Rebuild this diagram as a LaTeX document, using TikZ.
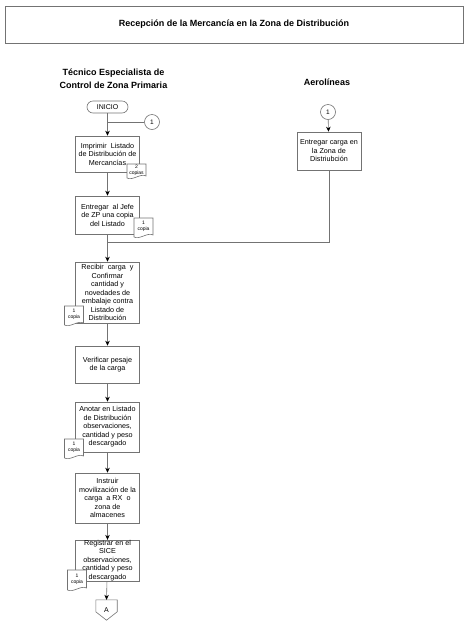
\documentclass[tikz,border=0pt]{standalone}
\usepackage{fontspec}
\setmainfont{Liberation Sans}
\usepackage{tikz}
\usetikzlibrary{shapes,arrows,arrows.meta,positioning,calc}

\begin{document}
\begin{tikzpicture}[x=1pt, y=-1pt,
    titlebox/.style={rectangle, draw=black!55, line width=0.6pt, minimum width=458, minimum height=37, font=\fontsize{9}{11}\selectfont\bfseries},
    header/.style={font=\fontsize{9}{13}\selectfont\bfseries, align=center},
    process/.style={rectangle, draw=black!55, line width=0.6pt, fill=white, minimum width=64, inner sep=1pt, font=\fontsize{7.2}{8.5}\selectfont, align=center},
    terminal/.style={rectangle, rounded corners=6pt, draw=black!55, line width=0.6pt, minimum width=41, minimum height=12, inner sep=0pt, font=\fontsize{7}{8}\selectfont},
    connector/.style={circle, draw=black!55, line width=0.6pt, minimum size=15, inner sep=0pt, font=\fontsize{6.5}{8}\selectfont},
    copia/.style={inner sep=0pt, font=\fontsize{5}{6}\selectfont, align=center},
    line/.style={draw=black!55, line width=0.6pt},
    arrow/.style={-{Stealth[length=5pt, width=4.5pt, color=black]}, draw=black!55, line width=0.6pt}
]
\useasboundingbox (0,0) rectangle (467,630);

% Title
\node[titlebox] (title) at (234,24.5) {Recepción de la Mercancía en la Zona de Distribución};

% Columns
\node[header] (tecnico) at (113.5,79) {Técnico Especialista de\\Control de Zona Primaria};
\node[header] (aerolineas) at (327,82.5) {Aerolíneas};

% Left column
\node[terminal] (inicio) at (107.5,107) {INICIO};
\node[connector] (unoA) at (152,122) {1};
\node[process, minimum height=36] (imprimir) at (107.5,154) {Imprimir~ Listado\\de Distribución de\\Mercancías};
\node[process, minimum height=38] (entrega) at (107.5,215) {Entregar~ al Jefe\\de ZP una copia\\del Listado};
\node[process, minimum height=61] (recibir) at (107.5,292.5) {Recibir~ carga~ y\\Confirmar\\cantidad y\\novedades de\\embalaje contra\\Listado de\\Distribución};
\node[process, minimum height=37] (verificar) at (107.5,364.5) {Verificar pesaje\\de la carga};
\node[process, minimum height=50] (anotar) at (107.5,427) {Anotar en Listado\\de Distribución\\observaciones,\\cantidad y peso\\descargado};
\node[process, minimum height=50] (instruir) at (107.5,498) {Instruir\\movilización de la\\carga~ a RX~ o\\zona de\\almacenes};
\node[process, minimum height=39, inner sep=0pt] (registrar) at (107.5,560.5) {Registrar en el\\SICE\\observaciones,\\cantidad y peso\\descargado};
\node[minimum width=21, minimum height=20, inner sep=0pt, font=\fontsize{7}{8}\selectfont] (letraA) at (106.5,610) {A};
\draw[line] (letraA.north west) -- (letraA.north east) -- ++(0,12) -- (letraA.south) -- ($(letraA.north west)+(0,12)$) -- cycle;

% Right column
\node[connector] (unoB) at (328,112) {1};
\node[process, minimum height=38] (aero) at (329,151) {Entregar carga en\\la Zona de\\Distriubción};

% Copies
\foreach \x/\y/\h/\n/\t [count=\i] in {136.5/171/14/2/copias, 143.5/227.5/19/1/copia, 74/315.5/19/1/copia, 74/448.5/19/1/copia, 77/580/20/1/copia}{
  \path[line, fill=white] (\x-9.5,\y+\h/2) -- (\x-9.5,\y-\h/2) -- (\x+9.5,\y-\h/2) -- (\x+9.5,\y+\h/2-2)
    .. controls (\x+4,\y+\h/2-5) and (\x-4,\y+\h/2+3) .. (\x-9.5,\y+\h/2) -- cycle;
  \node[copia] (copia\i) at (\x,\y-1) {\n\\\t};
}

% Connectors
\coordinate (merge) at (107.5,122);
\coordinate (join) at (107.5,242);
\draw[line] (inicio) -- (merge);
\draw[line] (unoA) -- (merge);
\draw[arrow] (merge) -- (imprimir);
\draw[arrow] (imprimir) -- (entrega);
\draw[line] (entrega) -- (join);
\draw[arrow] (unoB) -- (aero);
\draw[line] (aero) |- (join);
\draw[arrow] (join) -- (recibir);
\draw[arrow] (recibir) -- (verificar);
\draw[arrow] (verificar) -- (anotar);
\draw[arrow] (anotar) -- (instruir);
\draw[arrow] (instruir) -- (registrar);
\draw[arrow] (registrar) -- (letraA.north);

\end{tikzpicture}
\end{document}
